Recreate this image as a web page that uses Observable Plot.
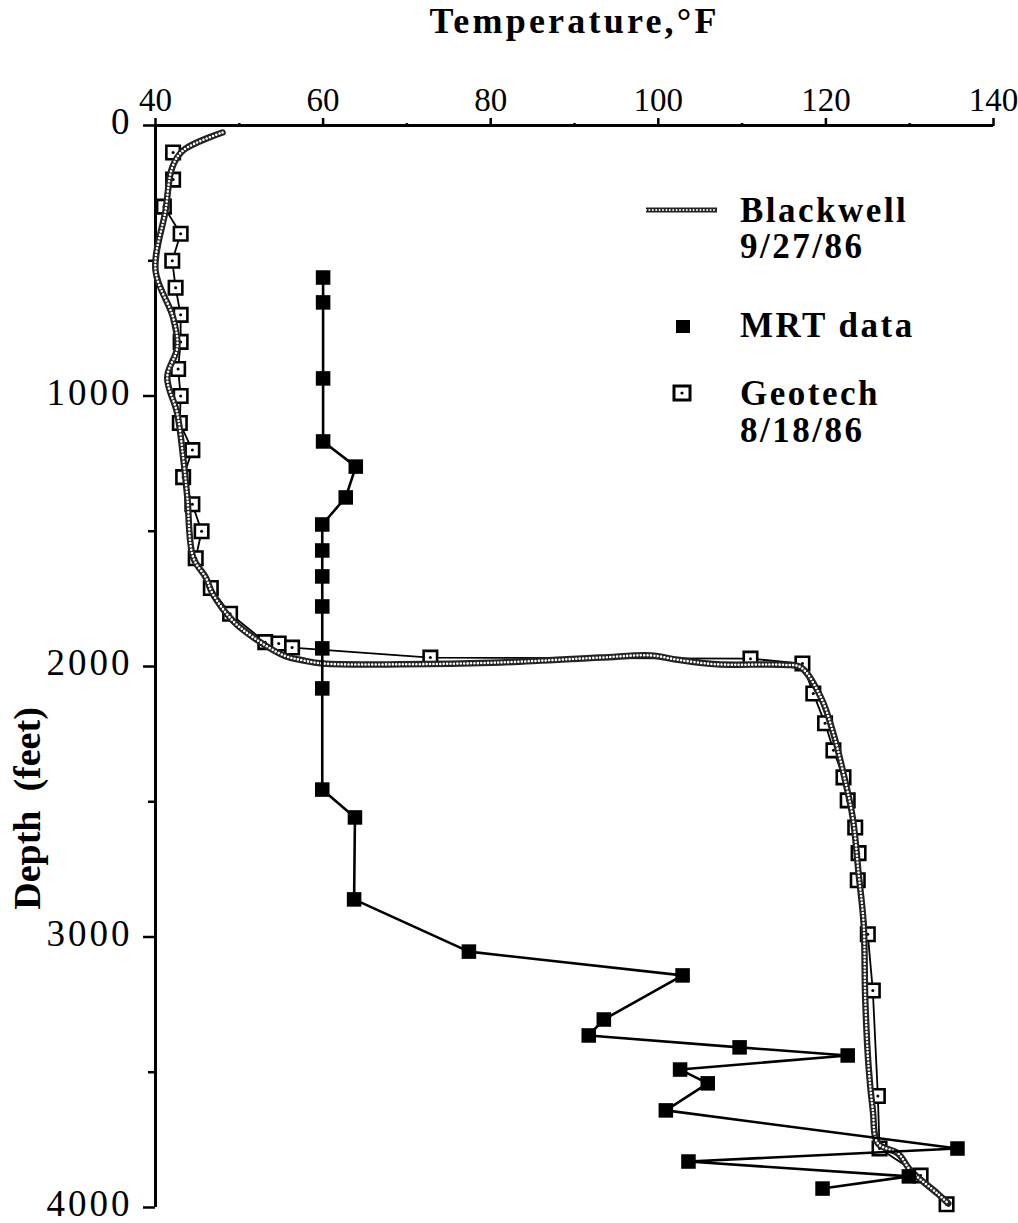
<!DOCTYPE html>
<html>
<head>
<meta charset="utf-8">
<script src="https://cdn.jsdelivr.net/npm/d3@7"></script>
<script src="https://cdn.jsdelivr.net/npm/@observablehq/plot@0.6"></script>
<style>
  body { margin: 0; background: white; }
  #wrap { position: relative; width: 1018px; height: 1223px; }
  #legend { position: absolute; left: 0; top: 0; pointer-events: none; }
  .xtitle text { letter-spacing: 3.2px; }
  .ylabels text { letter-spacing: 3px; }
</style>
</head>
<body>
<div id="wrap"></div>
<script>
// ---- Data ----
const xTicks = [40, 60, 80, 100, 120, 140];
const xMinorTicks = [50, 70, 90, 110, 130];
const yTicks = [0, 1000, 2000, 3000, 4000];
const yMinorTicks = [500, 1500, 2500, 3500];

// Blackwell 9/27/86 continuous log
const blackwellTemp = [48.0, 43.3, 42.0, 41.2, 40.0, 42.1, 42.6, 41.4, 42.6, 43.3, 43.8, 44.5, 46.0, 46.8, 49.2, 51.7, 55.3, 57.7, 60.0, 69.2, 81.2, 93.1, 99.1, 102.3, 107.0, 115.0, 117.0, 119.4, 120.9, 122.1, 123.2, 123.9, 124.5, 124.7, 125.1, 125.6, 126.2, 128.6, 130.1, 133.3, 134.6];
const blackwellDepth = [26, 92, 155, 314, 536, 710, 820, 931, 1065, 1227, 1375, 1597, 1671, 1730, 1830, 1893, 1959, 1978, 1989, 1992, 1985, 1967, 1959, 1975, 1992, 1994, 2003, 2114, 2248, 2396, 2558, 2765, 2950, 3235, 3482, 3641, 3763, 3800, 3863, 3948, 3985];

// MRT data
const mrtTemp = [60.0, 60.0, 60.0, 60.0, 63.9, 62.7, 59.9, 59.9, 59.9, 59.9, 59.9, 59.9, 59.9, 63.8, 63.7, 77.4, 102.9, 93.5, 91.7, 109.7, 122.6, 102.6, 105.9, 100.9, 135.7, 103.6, 129.9, 119.6];
const mrtDepth = [562, 654, 935, 1168, 1261, 1375, 1475, 1571, 1667, 1778, 1933, 2081, 2455, 2558, 2861, 3054, 3142, 3305, 3364, 3408, 3438, 3490, 3541, 3641, 3782, 3830, 3885, 3930];

// Geotech 8/18/86
const geoTemp = [42.1, 42.1, 41.0, 43.0, 42.0, 42.4, 43.0, 43.0, 42.7, 43.0, 42.9, 44.4, 43.3, 44.4, 45.5, 44.8, 46.6, 48.9, 53.1, 54.7, 56.3, 72.8, 111.0, 117.2, 118.5, 119.9, 120.9, 122.1, 122.6, 123.5, 123.9, 123.8, 125.0, 125.6, 126.2, 126.4, 131.3, 134.4];
const geoDepth = [100, 200, 300, 400, 500, 600, 700, 800, 900, 1000, 1100, 1200, 1300, 1400, 1500, 1600, 1710, 1805, 1910, 1915, 1930, 1967, 1971, 1989, 2100, 2210, 2310, 2410, 2495, 2595, 2690, 2790, 2990, 3198, 3588, 3782, 3882, 3988];

const xLabel = "Temperature,°F";
const yLabel = "Depth\u00a0 (feet)";
const legendItems = [
  {key: "blackwell", lines: ["Blackwell", "9/27/86"]},
  {key: "mrt", lines: ["MRT data"]},
  {key: "geotech", lines: ["Geotech", "8/18/86"]}
];

// ---- Tables ----
const blackwell = blackwellTemp.map((t, i) => ({t, d: blackwellDepth[i]}));
const mrt = mrtTemp.map((t, i) => ({t, d: mrtDepth[i]}));
const geo = geoTemp.map((t, i) => ({t, d: geoDepth[i]}));

const FONT = "Liberation Serif, Times New Roman, serif";

const chart = Plot.plot({
  width: 1018,
  height: 1223,
  marginLeft: 155,
  marginRight: 25,
  marginTop: 125,
  marginBottom: 16,
  style: {fontFamily: FONT, background: "white", color: "black"},
  x: {domain: [40, 140]},
  y: {domain: [0, 4000], reverse: true},
  marks: [
    Plot.axisX({anchor: "top", ticks: xTicks, tickSize: 8, tickPadding: 7, strokeWidth: 2.5,
      fontSize: 33, fontFamily: FONT, tickFormat: d => String(d), label: null}),
    Plot.axisX({anchor: "top", ticks: xMinorTicks, tickSize: 3, strokeWidth: 2.5,
      tickFormat: () => "", label: null}),
    // y tick marks
    Plot.axisY({anchor: "left", ticks: yTicks, tickSize: 12, strokeWidth: 2.5,
      tickFormat: () => "", label: null}),
    Plot.axisY({anchor: "left", ticks: yMinorTicks, tickSize: 7, strokeWidth: 2.5,
      tickFormat: () => "", label: null}),
    // y tick labels (nudged up slightly so the last one stays on the page)
    Plot.axisY({anchor: "left", ticks: yTicks, tickSize: 0, tickPadding: 23, dy: -3, className: "ylabels",
      fontSize: 37, fontFamily: FONT, tickFormat: d => String(d), label: null}),
    Plot.ruleX([40], {stroke: "black", strokeWidth: 3}),
    Plot.ruleY([0], {stroke: "black", strokeWidth: 3}),
    Plot.text([xLabel], {frameAnchor: "top", dy: -104, lineAnchor: "middle", textAnchor: "middle",
      className: "xtitle", text: d => d, fontSize: 36, fontWeight: "bold", fontFamily: FONT}),
    Plot.text([yLabel], {frameAnchor: "left", dx: -128, dy: 142, rotate: -90, lineAnchor: "middle",
      textAnchor: "middle", text: d => d, fontSize: 38, fontWeight: "bold", fontFamily: FONT}),
    // Geotech
    Plot.line(geo, {x: "t", y: "d", stroke: "black", strokeWidth: 1.8}),
    Plot.dot(geo, {x: "t", y: "d", symbol: "square", r: 7.6, fill: "white", stroke: "black", strokeWidth: 2.6}),
    Plot.dot(geo, {x: "t", y: "d", r: 1.5, fill: "black"}),
    // Blackwell (dark band with a chain of small white dots)
    Plot.line(blackwell, {x: "t", y: "d", stroke: "#222", strokeWidth: 6.5, curve: "catmull-rom"}),
    Plot.line(blackwell, {x: "t", y: "d", stroke: "white", strokeWidth: 2.6, strokeLinecap: "round",
      strokeDasharray: "0,3.4", curve: "catmull-rom"}),
    // MRT
    Plot.line(mrt, {x: "t", y: "d", stroke: "black", strokeWidth: 2.6}),
    Plot.dot(mrt, {x: "t", y: "d", symbol: "square", r: 8.2, fill: "black"})
  ]
});

const wrap = document.getElementById("wrap");
wrap.appendChild(chart);

// ---- Legend overlay (inside plot area, upper right) ----
const leg = d3.select(wrap).append("svg")
  .attr("id", "legend").attr("width", 1018).attr("height", 1223)
  .style("font-family", FONT);

const legTextX = 740;
const legBaselines = {blackwell: [222, 258], mrt: [337], geotech: [405, 442]};
legendItems.forEach(item => {
  const bl = legBaselines[item.key];
  item.lines.forEach((s, i) => {
    leg.append("text").attr("x", legTextX).attr("y", bl[i])
      .attr("font-size", 35).attr("font-weight", "bold").attr("letter-spacing", 2.5)
      .text(s);
  });
});
// symbols
leg.append("line").attr("x1", 646).attr("x2", 717).attr("y1", 210).attr("y2", 210)
  .attr("stroke", "#222").attr("stroke-width", 5);
leg.append("line").attr("x1", 646).attr("x2", 717).attr("y1", 210).attr("y2", 210)
  .attr("stroke", "white").attr("stroke-width", 2).attr("stroke-linecap", "round")
  .attr("stroke-dasharray", "0,3.4");
leg.append("rect").attr("x", 676).attr("y", 320).attr("width", 14).attr("height", 13).attr("fill", "black");
leg.append("rect").attr("x", 674).attr("y", 386).attr("width", 16).attr("height", 14)
  .attr("fill", "white").attr("stroke", "black").attr("stroke-width", 3);
leg.append("circle").attr("cx", 682).attr("cy", 393).attr("r", 1.6).attr("fill", "black");
</script>
</body>
</html>
